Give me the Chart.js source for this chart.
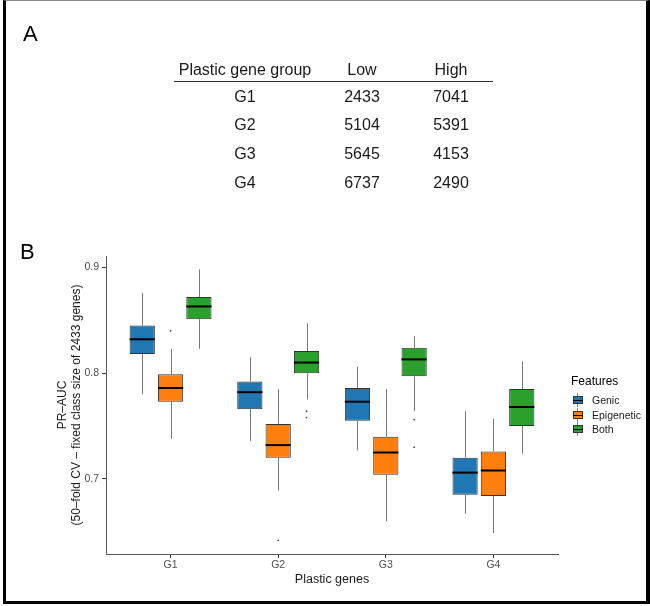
<!DOCTYPE html>
<html>
<head>
<meta charset="utf-8">
<script src="https://cdn.jsdelivr.net/npm/chart.js@4.4.1/dist/chart.umd.min.js"></script>
<style>
  html, body { margin: 0; padding: 0; background: #fff; }
  body { width: 650px; height: 606px; position: relative; overflow: hidden; font-family: "Liberation Sans", Arial, sans-serif; }
  #chart { position: absolute; left: 0; top: 0; }
  .abs { position: absolute; white-space: nowrap; }
  .cell { position: absolute; width: 160px; margin-left: -80px; text-align: center; font-size: 16px; line-height: 20px; color: #1a1a1a; }
  .panel { position: absolute; font-size: 22px; line-height: 22px; color: #000; }
  #frame { position: absolute; left: 3px; top: 0; width: 647px; height: 604px; box-sizing: border-box;
           border-left: 3px solid #000; border-right: 4px solid #000; border-bottom: 3px solid #000; border-top: 1px solid #888; pointer-events: none; }
</style>
</head>
<body>
<canvas id="chart" width="650" height="606"></canvas>
<div id="tableA"></div>
<div id="legend"></div>
<div class="panel" style="left:23px; top:23px;">A</div>
<div class="panel" style="left:20px; top:241px;">B</div>
<div id="frame"></div>
<script>
// Panel A table
const tableHeader = ['Plastic gene group', 'Low', 'High'];
const tableGroups = ['G1', 'G2', 'G3', 'G4'];
const tableLow = [2433, 5104, 5645, 6737];
const tableHigh = [7041, 5391, 4153, 2490];

// Panel B boxplots
const groups = ['G1', 'G2', 'G3', 'G4'];
const seriesNames = ['Genic', 'Epigenetic', 'Both'];
const seriesColors = ['#1f77b4', '#ff7f0e', '#2ca02c'];
// [lower whisker, Q1, median, Q3, upper whisker] per group
const genicStats = [
    [0.780, 0.818, 0.832, 0.845, 0.876],
    [0.736, 0.766, 0.782, 0.792, 0.815],
    [0.727, 0.755, 0.773, 0.786, 0.806],
    [0.667, 0.685, 0.706, 0.720, 0.764]
];
const epigeneticStats = [
    [0.738, 0.773, 0.786, 0.799, 0.823],
    [0.689, 0.720, 0.732, 0.752, 0.785],
    [0.660, 0.704, 0.725, 0.740, 0.785],
    [0.649, 0.684, 0.708, 0.726, 0.757]
];
const bothStats = [
    [0.823, 0.851, 0.863, 0.872, 0.898],
    [0.775, 0.800, 0.810, 0.821, 0.847],
    [0.764, 0.797, 0.813, 0.824, 0.835],
    [0.724, 0.750, 0.768, 0.785, 0.811]
];
const genicOutliers = [[], [], [], []];
const epigeneticOutliers = [[0.840], [0.642], [], []];
const bothOutliers = [[], [0.764, 0.758], [0.756, 0.730], []];
const yTicks = [0.7, 0.8, 0.9];

const FONT = '"Liberation Sans", Arial, sans-serif';

// build the table
const tableA = document.getElementById('tableA');
const colX = [245, 362, 451];
const rowY = [70, 97, 125, 154, 183];
function addCell(text, x, y) {
    const d = document.createElement('div');
    d.className = 'cell';
    d.style.left = x + 'px';
    d.style.top = (y - 10) + 'px';
    d.textContent = text;
    tableA.appendChild(d);
}
tableHeader.forEach((h, c) => addCell(h, colX[c], rowY[0]));
tableGroups.forEach((g, r) => {
    addCell(g, colX[0], rowY[r + 1]);
    addCell(tableLow[r], colX[1], rowY[r + 1]);
    addCell(tableHigh[r], colX[2], rowY[r + 1]);
});
const rule = document.createElement('div');
rule.className = 'abs';
rule.style.cssText += 'left:174px; top:81px; width:319px; height:1px; background:#333;';
tableA.appendChild(rule);

// legend
const legend = document.getElementById('legend');
const legTitle = document.createElement('div');
legTitle.className = 'abs';
legTitle.style.cssText += 'left:571px; top:373px; font-size:12px; line-height:16px; color:#000;';
legTitle.textContent = 'Features';
legend.appendChild(legTitle);
const legY = [400, 415, 429];
seriesNames.forEach((name, s) => {
    const cy = legY[s];
    const wh = document.createElement('div');
    wh.className = 'abs';
    wh.style.cssText += `left:577px; top:${cy - 7}px; width:1px; height:14px; background:#888;`;
    legend.appendChild(wh);
    const box = document.createElement('div');
    box.className = 'abs';
    box.style.cssText += `left:573px; top:${cy - 4}px; width:10px; height:8px; box-sizing:border-box; border:1px solid #333; background:${seriesColors[s]};`;
    legend.appendChild(box);
    const med = document.createElement('div');
    med.className = 'abs';
    med.style.cssText += `left:573px; top:${cy}px; width:10px; height:1px; background:#000;`;
    legend.appendChild(med);
    const lab = document.createElement('div');
    lab.className = 'abs';
    lab.style.cssText += `left:592px; top:${cy - 7}px; font-size:10.5px; line-height:14px; color:#1a1a1a;`;
    lab.textContent = name;
    legend.appendChild(lab);
});

// whiskers, medians and outliers on top of the floating bars
const boxplotParts = {
    id: 'boxplotParts',
    afterDatasetsDraw(chart) {
        const ctx = chart.ctx;
        const y = chart.scales.y;
        chart.data.datasets.forEach((ds, d) => {
            const meta = chart.getDatasetMeta(d);
            meta.data.forEach((bar, i) => {
                const st = ds.stats[i];
                const cx = Math.round(bar.x) + 0.5;
                const half = bar.width / 2;
                ctx.save();
                ctx.strokeStyle = '#777';
                ctx.lineWidth = 1;
                ctx.beginPath();
                ctx.moveTo(cx, y.getPixelForValue(st[3]));
                ctx.lineTo(cx, y.getPixelForValue(st[4]));
                ctx.moveTo(cx, y.getPixelForValue(st[1]));
                ctx.lineTo(cx, y.getPixelForValue(st[0]));
                ctx.stroke();
                ctx.strokeStyle = '#000';
                ctx.lineWidth = 2;
                ctx.beginPath();
                const my = y.getPixelForValue(st[2]);
                ctx.moveTo(bar.x - half, my);
                ctx.lineTo(bar.x + half, my);
                ctx.stroke();
                ctx.fillStyle = '#444';
                ds.outliers[i].forEach(v => {
                    ctx.beginPath();
                    ctx.arc(bar.x, y.getPixelForValue(v), 0.9, 0, Math.PI * 2);
                    ctx.fill();
                });
                ctx.restore();
            });
        });
    }
};

const allStats = [genicStats, epigeneticStats, bothStats];
const allOutliers = [genicOutliers, epigeneticOutliers, bothOutliers];

new Chart(document.getElementById('chart'), {
    type: 'bar',
    data: {
        datasets: seriesNames.map((name, s) => ({
            label: name,
            data: allStats[s].map((st, i) => ({ x: i + 1, y: [st[1], st[3]] })),
            stats: allStats[s],
            outliers: allOutliers[s],
            backgroundColor: seriesColors[s],
            borderColor: '#333',
            borderWidth: 1,
            borderSkipped: false,
            categoryPercentage: 0.79,
            barPercentage: 0.89
        }))
    },
    options: {
        responsive: false,
        animation: false,
        devicePixelRatio: 1,
        layout: { padding: { left: 0, top: 256, right: 92, bottom: 0 } },
        plugins: { legend: { display: false }, tooltip: { enabled: false } },
        scales: {
            x: {
                type: 'linear',
                min: 0.4,
                max: 4.6,
                offset: false,
                afterBuildTicks: s => { s.ticks = groups.map((g, i) => ({ value: i + 1 })); },
                afterFit: s => { s.height = 52; },
                ticks: {
                    callback: v => groups[Math.round(v) - 1],
                    color: '#4d4d4d',
                    font: { family: FONT, size: 10.5 },
                    padding: 1,
                    maxRotation: 0
                },
                grid: { offset: false, drawOnChartArea: false, tickLength: 4, color: '#333' },
                border: { color: '#555', width: 1 },
                title: {
                    display: true,
                    text: 'Plastic genes',
                    color: '#1a1a1a',
                    font: { family: FONT, size: 12.5 },
                    padding: { top: 0, bottom: 19 }
                }
            },
            y: {
                min: 0.6291,
                max: 0.9107,
                beginAtZero: false,
                afterBuildTicks: s => { s.ticks = yTicks.map(v => ({ value: v })); },
                afterFit: s => { s.width = 106; },
                ticks: {
                    callback: v => v.toFixed(1),
                    color: '#4d4d4d',
                    font: { family: FONT, size: 10.5 },
                    padding: 3
                },
                grid: { drawOnChartArea: false, tickLength: 4, color: '#333' },
                border: { color: '#555', width: 1 },
                title: {
                    display: true,
                    text: ['PR\u2013AUC', '(50\u2013fold CV \u2013 fixed class size of 2433 genes)'],
                    color: '#1a1a1a',
                    font: { family: FONT, size: 12 },
                    padding: { top: 55, bottom: 0 }
                }
            }
        }
    },
    plugins: [boxplotParts]
});
</script>
</body>
</html>
